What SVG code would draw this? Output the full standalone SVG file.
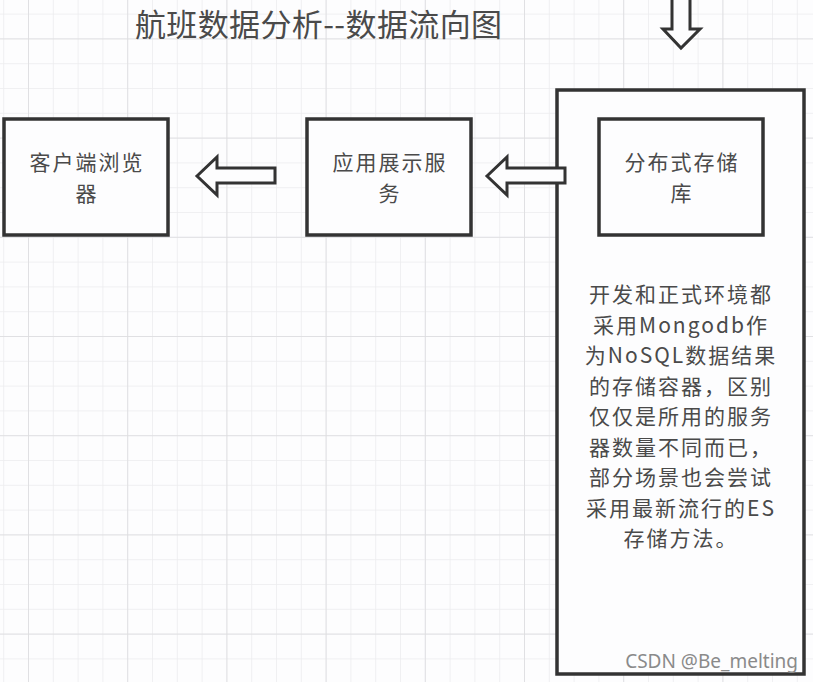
<svg xmlns="http://www.w3.org/2000/svg" width="813" height="682" viewBox="0 0 813 682">
<defs>
<pattern id="minor" x="3.2" y="13.6" width="24.8" height="24.8" patternUnits="userSpaceOnUse">
<path d="M0 0H24.8M0 0V24.8" fill="none" stroke="#ececee" stroke-width="1.5"/>
</pattern>
<pattern id="major" x="28" y="38.4" width="99.2" height="99.2" patternUnits="userSpaceOnUse">
<path d="M0 0H99.2M0 0V99.2" fill="none" stroke="#dcdcde" stroke-width="1.5"/>
</pattern>
<style>
.box{fill:#fdfdfe;stroke:#333;stroke-width:3.5}
.arrow{fill:#fdfdfe;stroke:#333;stroke-width:3;stroke-linejoin:miter}
.lbl{font-family:"Noto Sans CJK SC","Noto Sans",sans-serif;font-size:21px;letter-spacing:2px;fill:#4a4a4a;text-anchor:middle}
.title{font-family:"Noto Sans CJK SC","Noto Sans",sans-serif;font-size:31px;fill:#4a4a4a}
.wm{font-family:"Noto Sans","Noto Sans CJK SC",sans-serif;font-size:19px;fill:#8a8a8a;text-anchor:end}
</style>
</defs>
<rect width="813" height="682" fill="#fdfdfe"/>
<rect width="813" height="682" fill="url(#minor)"/>
<rect width="813" height="682" fill="url(#major)"/>
<text class="title" x="135" y="36" textLength="367" lengthAdjust="spacing">航班数据分析--数据流向图</text>
<g id="browser">
<rect class="box" x="4" y="119" width="164" height="116"/>
<text class="lbl" x="87" y="170">客户端浏览<tspan x="87" dy="30.6">器</tspan></text>
</g>
<g id="app-service">
<rect class="box" x="307" y="119" width="164" height="116"/>
<text class="lbl" x="390" y="170">应用展示服<tspan x="390" dy="30.6">务</tspan></text>
</g>
<g id="storage-container">
<rect class="box" x="557" y="90" width="247" height="584"/>
<text class="lbl" x="681" y="302">开发和正式环境都<tspan x="681" dy="30.5">采用Mongodb作</tspan><tspan x="681" dy="30.5">为NoSQL数据结果</tspan><tspan x="681" dy="30.5">的存储容器，区别</tspan><tspan x="681" dy="30.5">仅仅是所用的服务</tspan><tspan x="681" dy="30.5">器数量不同而已，</tspan><tspan x="681" dy="30.5">部分场景也会尝试</tspan><tspan x="681" dy="30.5">采用最新流行的ES</tspan><tspan x="681" dy="30.5">存储方法。</tspan></text>
</g>
<g id="distributed-storage">
<rect class="box" x="599" y="119" width="164" height="116"/>
<text class="lbl" x="682" y="170">分布式存储<tspan x="682" dy="30.6">库</tspan></text>
</g>
<g id="connectors">
<polygon class="arrow" points="197,176 217,157 217,168 275,168 275,183 217,183 217,195"/>
<polygon class="arrow" points="487,176 507,157 507,168 565,168 565,183 507,183 507,195"/>
<polygon class="arrow" points="672,-5 690,-5 690,29 700,29 681,48 663,29 672,29"/>
</g>
<text class="wm" x="798" y="668">CSDN @Be_melting</text>
</svg>
